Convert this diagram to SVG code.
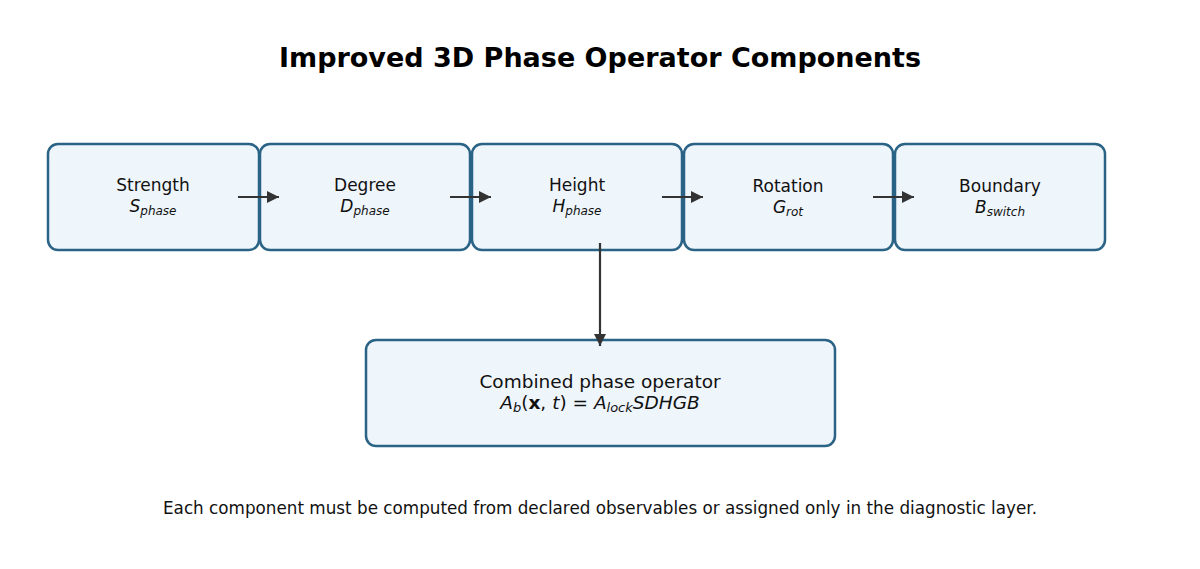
<svg xmlns="http://www.w3.org/2000/svg" width="1200" height="569" viewBox="0 0 1200 569">
<style>
.box{fill:#eef5fb;stroke:#2a6385;stroke-width:2.5}
.t{font-family:"DejaVu Sans",sans-serif;font-size:17px;fill:#111;text-anchor:middle}
.m{font-family:"DejaVu Sans",sans-serif;font-size:17px;fill:#111;text-anchor:middle;font-style:italic}
.s{font-size:12px}
.c{stroke:#333;stroke-width:2.2;fill:none;marker-end:url(#ah)}
</style>
<defs>
<marker id="ah" markerWidth="13" markerHeight="13" refX="12" refY="6" orient="auto" markerUnits="userSpaceOnUse">
<path d="M0,0 L12,6 L0,12 Z" fill="#333"/>
</marker>
</defs>
<rect width="1200" height="569" fill="#fff"/>
<text x="600" y="67" font-family="DejaVu Sans,sans-serif" font-size="27" font-weight="bold" text-anchor="middle" fill="#000">Improved 3D Phase Operator Components</text>
<g id="n1"><rect class="box" x="48" y="144" width="211" height="106" rx="10"/><text class="t" x="153" y="191">Strength</text><text class="m" x="153" y="212">S<tspan class="s" dy="3">phase</tspan></text></g>
<g id="n2"><rect class="box" x="260" y="144" width="210" height="106" rx="10"/><text class="t" x="365" y="191">Degree</text><text class="m" x="365" y="212">D<tspan class="s" dy="3">phase</tspan></text></g>
<g id="n3"><rect class="box" x="472" y="144" width="210" height="106" rx="10"/><text class="t" x="577" y="191">Height</text><text class="m" x="577" y="212">H<tspan class="s" dy="3">phase</tspan></text></g>
<g id="n4"><rect class="box" x="684" y="144" width="209" height="106" rx="10"/><text class="t" x="788" y="192">Rotation</text><text class="m" x="788" y="213">G<tspan class="s" dy="3">rot</tspan></text></g>
<g id="n5"><rect class="box" x="895" y="144" width="210" height="106" rx="10"/><text class="t" x="1000" y="192">Boundary</text><text class="m" x="1000" y="213">B<tspan class="s" dy="3">switch</tspan></text></g>
<g id="n6"><rect class="box" x="366" y="340" width="469" height="106" rx="10"/><text class="t" x="600" y="388" style="font-size:18.5px">Combined phase operator</text><text class="m" x="600" y="409" style="font-size:18.5px">A<tspan class="s" style="font-size:13px" dy="3">b</tspan><tspan dy="-3" font-style="normal">(</tspan><tspan font-style="normal" font-weight="bold">x</tspan><tspan font-style="normal">, </tspan>t<tspan font-style="normal">) = </tspan>A<tspan class="s" style="font-size:13px" dy="3">lock</tspan><tspan dy="-3">SDHGB</tspan></text></g>
<g id="connectors">
<line class="c" x1="238" y1="197" x2="279" y2="197"/>
<line class="c" x1="450" y1="197" x2="491" y2="197"/>
<line class="c" x1="662" y1="197" x2="703" y2="197"/>
<line class="c" x1="873" y1="197" x2="914" y2="197"/>
<line class="c" x1="600" y1="243" x2="600" y2="346"/>
</g>
<text class="t" x="600" y="514" style="font-size:16.8px">Each component must be computed from declared observables or assigned only in the diagnostic layer.</text>
</svg>
